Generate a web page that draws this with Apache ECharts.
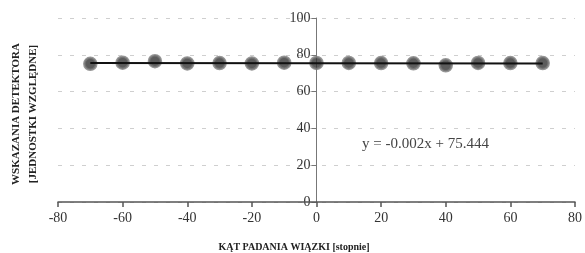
<!DOCTYPE html>
<html>
<head>
<meta charset="utf-8">
<script src="https://cdn.jsdelivr.net/npm/echarts@6/dist/echarts.min.js"></script>
<style>
  html, body { margin: 0; padding: 0; background: #fff; }
  #chart { width: 585px; height: 253px; }
</style>
</head>
<body>
<div id="chart"></div>
<script>
// kąt padania wiązki [stopnie]
var angles = [-70, -60, -50, -40, -30, -20, -10, 0, 10, 20, 30, 40, 50, 60, 70];
// wskazania detektora
var readings = [75.1, 75.7, 76.5, 75.3, 75.5, 75.3, 75.7, 75.6, 75.6, 75.5, 75.4, 74.3, 75.6, 75.5, 75.5];
// linia trendu y = -0.002x + 75.444 (końce)
var trendX = [-70, 70];
var trendY = [75.58, 75.30];
var trendLabel = 'y = -0.002x + 75.444';

var serif = '"Liberation Serif", "DejaVu Serif", serif';

var chart = echarts.init(document.getElementById('chart'), null, { renderer: 'canvas' });

var gridBox = { left: 58, right: 10, top: 18, bottom: 51 };

var option = {
  animation: false,
  grid: [gridBox, gridBox],
  xAxis: [
    {
      type: 'value',
      min: -80,
      max: 80,
      interval: 20,
      axisLine: { show: true, onZero: false, lineStyle: { color: '#555', width: 1.5 } },
      axisTick: { show: true, length: 5, lineStyle: { color: '#555', width: 1.5 } },
      axisLabel: { color: '#333', fontFamily: serif, fontSize: 14, margin: 9 },
      splitLine: { show: false },
      z: 5
    },
    { gridIndex: 1, type: 'value', min: -80, max: 80, show: false }
  ],
  yAxis: [
    {
      type: 'value',
      min: 0,
      max: 100,
      interval: 20,
      position: 'left',
      offset: -258.5,   // oś Y w punkcie x = 0
      axisLine: { show: true, onZero: false, lineStyle: { color: '#777', width: 1 } },
      axisTick: { show: true, length: 5, lineStyle: { color: '#777' } },
      axisLabel: { show: false },
      splitLine: { show: true, lineStyle: { color: '#cfcfcf', type: [4, 8], width: 1 } }
    },
    {
      // tylko etykiety osi Y
      gridIndex: 1,
      type: 'value',
      min: -0.001,
      max: 100,
      interval: 20,
      position: 'left',
      offset: -258.5,
      axisLine: { show: false },
      axisTick: { show: false },
      axisLabel: {
        color: '#333', fontFamily: serif, fontSize: 14, margin: 6,
        showMinLabel: true,
        formatter: function (v) { return String(Math.round(v)); }
      },
      splitLine: { show: false }
    }
  ],
  series: [
    {
      type: 'scatter',
      data: angles.map(function (a, i) { return [a, readings[i]]; }),
      symbol: 'circle',
      symbolSize: 12,
      itemStyle: { color: '#333', borderColor: '#7a7a7a', borderWidth: 2.5 },
      z: 2
    },
    {
      type: 'line',
      data: trendX.map(function (a, i) { return [a, trendY[i]]; }),
      showSymbol: false,
      lineStyle: { color: '#111', width: 2 },
      z: 3
    }
  ],
  graphic: [
    {
      type: 'text',
      left: 362,
      top: 137,
      style: { text: trendLabel, fill: '#444', font: '15px ' + serif }
    },
    {
      type: 'text',
      x: 294,
      y: 247,
      style: {
        text: 'KĄT PADANIA WIĄZKI [stopnie]',
        fill: '#222',
        font: 'bold 10px ' + serif,
        align: 'center',
        verticalAlign: 'middle'
      }
    },
    {
      type: 'text',
      x: 25,
      y: 114,
      rotation: Math.PI / 2,
      style: {
        text: 'WSKAZANIA DETEKTORA\n[JEDNOSTKI WZGLĘDNE]',
        fill: '#222',
        font: 'bold 11px ' + serif,
        align: 'center',
        verticalAlign: 'middle',
        lineHeight: 17
      }
    }
  ]
};

chart.setOption(option);
</script>
</body>
</html>
